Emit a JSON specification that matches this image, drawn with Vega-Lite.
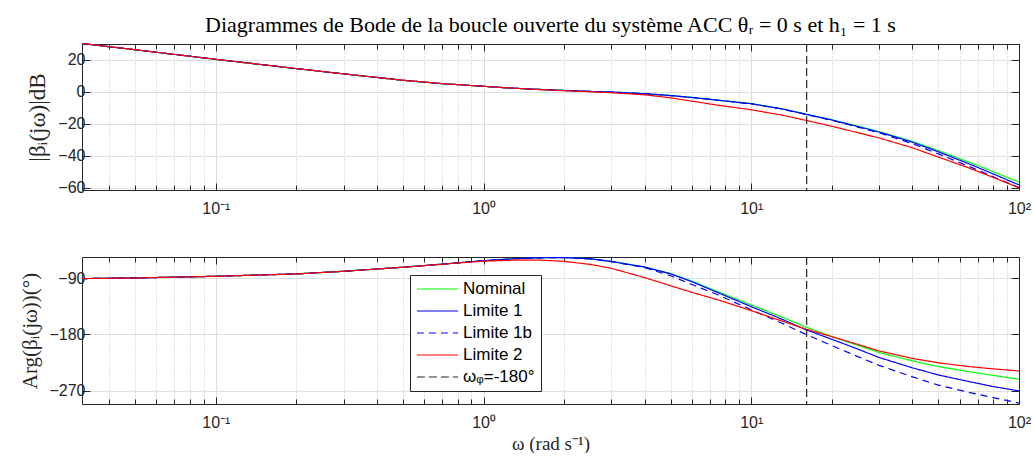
{
  "$schema": "https://vega.github.io/schema/vega-lite/v6.json",
  "padding": {"left": 19, "top": 14, "right": 5, "bottom": 0},
  "background": "white",
  "config": {
    "view": {"stroke": null},
    "axis": {
      "domainColor": "#262626", "tickColor": "#262626", "labelColor": "#262626",
      "labelFont": "Liberation Sans", "labelFontSize": 16,
      "titleFont": "Liberation Serif", "titleFontWeight": "normal", "titleFontSize": 20, "titleColor": "#262626",
      "gridColor": "#dedede", "gridOpacity": 1, "domainWidth": 1, "tickWidth": 1
    },
    "line": {"strokeWidth": 1.2, "clip": true},
    "legend": {"labelFont": "Liberation Sans", "labelFontSize": 17, "labelColor": "#000000"}
  },
  "resolve": {"legend": {"color": "independent", "strokeDash": "independent"}},
  "spacing": 37,
  "datasets": {
    "bode": [
      {"w": 0.03162, "s": "Nominal", "m": 30.3, "p": -90.5},
      {"w": 0.05, "s": "Nominal", "m": 26.4, "p": -89.5},
      {"w": 0.1, "s": "Nominal", "m": 20.4, "p": -86.8},
      {"w": 0.2, "s": "Nominal", "m": 14.6, "p": -83.0},
      {"w": 0.3, "s": "Nominal", "m": 11.3, "p": -78.8},
      {"w": 0.5, "s": "Nominal", "m": 7.3, "p": -72.3},
      {"w": 0.7, "s": "Nominal", "m": 5.2, "p": -67.3},
      {"w": 1, "s": "Nominal", "m": 3.5, "p": -61.8},
      {"w": 1.3, "s": "Nominal", "m": 2.3, "p": -58.7},
      {"w": 1.6, "s": "Nominal", "m": 1.6, "p": -57.2},
      {"w": 2, "s": "Nominal", "m": 0.9, "p": -56.8},
      {"w": 2.5, "s": "Nominal", "m": 0.3, "p": -58.8},
      {"w": 3, "s": "Nominal", "m": -0.1, "p": -63.0},
      {"w": 4, "s": "Nominal", "m": -1.1, "p": -72.0},
      {"w": 5, "s": "Nominal", "m": -2.2, "p": -82.5},
      {"w": 6, "s": "Nominal", "m": -3.4, "p": -94.5},
      {"w": 7.5, "s": "Nominal", "m": -5.1, "p": -111.5},
      {"w": 10, "s": "Nominal", "m": -7.3, "p": -132.8},
      {"w": 13, "s": "Nominal", "m": -10.5, "p": -152.0},
      {"w": 16, "s": "Nominal", "m": -13.9, "p": -168.3},
      {"w": 20, "s": "Nominal", "m": -17.4, "p": -183.5},
      {"w": 25, "s": "Nominal", "m": -21.4, "p": -197.5},
      {"w": 30, "s": "Nominal", "m": -24.8, "p": -209.0},
      {"w": 40, "s": "Nominal", "m": -31.0, "p": -222.5},
      {"w": 50, "s": "Nominal", "m": -36.8, "p": -231.5},
      {"w": 65, "s": "Nominal", "m": -43.9, "p": -239.8},
      {"w": 80, "s": "Nominal", "m": -49.9, "p": -245.6},
      {"w": 100, "s": "Nominal", "m": -56.5, "p": -251.8},

      {"w": 0.03162, "s": "Limite 1", "m": 30.3, "p": -90.5},
      {"w": 0.05, "s": "Limite 1", "m": 26.4, "p": -89.5},
      {"w": 0.1, "s": "Limite 1", "m": 20.4, "p": -86.8},
      {"w": 0.2, "s": "Limite 1", "m": 14.6, "p": -83.0},
      {"w": 0.3, "s": "Limite 1", "m": 11.3, "p": -78.8},
      {"w": 0.5, "s": "Limite 1", "m": 7.3, "p": -72.3},
      {"w": 0.7, "s": "Limite 1", "m": 5.2, "p": -67.3},
      {"w": 1, "s": "Limite 1", "m": 3.5, "p": -61.8},
      {"w": 1.3, "s": "Limite 1", "m": 2.3, "p": -58.7},
      {"w": 1.6, "s": "Limite 1", "m": 1.6, "p": -57.2},
      {"w": 2, "s": "Limite 1", "m": 0.9, "p": -56.8},
      {"w": 2.5, "s": "Limite 1", "m": 0.3, "p": -58.8},
      {"w": 3, "s": "Limite 1", "m": -0.1, "p": -63.0},
      {"w": 4, "s": "Limite 1", "m": -1.1, "p": -72.0},
      {"w": 5, "s": "Limite 1", "m": -2.3, "p": -83.0},
      {"w": 6, "s": "Limite 1", "m": -3.5, "p": -95.5},
      {"w": 7.5, "s": "Limite 1", "m": -5.2, "p": -113.0},
      {"w": 10, "s": "Limite 1", "m": -7.4, "p": -135.5},
      {"w": 13, "s": "Limite 1", "m": -10.6, "p": -155.5},
      {"w": 16, "s": "Limite 1", "m": -14.0, "p": -172.5},
      {"w": 20, "s": "Limite 1", "m": -17.6, "p": -187.8},
      {"w": 25, "s": "Limite 1", "m": -21.7, "p": -203.5},
      {"w": 30, "s": "Limite 1", "m": -25.1, "p": -217.0},
      {"w": 40, "s": "Limite 1", "m": -31.5, "p": -233.5},
      {"w": 50, "s": "Limite 1", "m": -37.5, "p": -245.0},
      {"w": 65, "s": "Limite 1", "m": -45.0, "p": -255.5},
      {"w": 80, "s": "Limite 1", "m": -51.3, "p": -263.5},
      {"w": 100, "s": "Limite 1", "m": -58.2, "p": -270.5},

      {"w": 0.03162, "s": "Limite 1b", "m": 30.3, "p": -90.5},
      {"w": 0.05, "s": "Limite 1b", "m": 26.4, "p": -89.5},
      {"w": 0.1, "s": "Limite 1b", "m": 20.4, "p": -86.8},
      {"w": 0.2, "s": "Limite 1b", "m": 14.6, "p": -83.0},
      {"w": 0.3, "s": "Limite 1b", "m": 11.3, "p": -78.8},
      {"w": 0.5, "s": "Limite 1b", "m": 7.3, "p": -72.3},
      {"w": 0.7, "s": "Limite 1b", "m": 5.2, "p": -67.3},
      {"w": 1, "s": "Limite 1b", "m": 3.5, "p": -61.8},
      {"w": 1.3, "s": "Limite 1b", "m": 2.3, "p": -58.7},
      {"w": 1.6, "s": "Limite 1b", "m": 1.6, "p": -57.2},
      {"w": 2, "s": "Limite 1b", "m": 0.9, "p": -56.8},
      {"w": 2.5, "s": "Limite 1b", "m": 0.3, "p": -58.8},
      {"w": 3, "s": "Limite 1b", "m": -0.1, "p": -63.3},
      {"w": 4, "s": "Limite 1b", "m": -1.1, "p": -73.0},
      {"w": 5, "s": "Limite 1b", "m": -2.3, "p": -86.0},
      {"w": 6, "s": "Limite 1b", "m": -3.5, "p": -100.0},
      {"w": 7.5, "s": "Limite 1b", "m": -5.2, "p": -116.5},
      {"w": 10, "s": "Limite 1b", "m": -7.5, "p": -140.5},
      {"w": 13, "s": "Limite 1b", "m": -10.7, "p": -162.0},
      {"w": 16, "s": "Limite 1b", "m": -14.1, "p": -180.0},
      {"w": 20, "s": "Limite 1b", "m": -17.8, "p": -198.0},
      {"w": 25, "s": "Limite 1b", "m": -22.0, "p": -215.5},
      {"w": 30, "s": "Limite 1b", "m": -25.6, "p": -229.5},
      {"w": 40, "s": "Limite 1b", "m": -32.4, "p": -248.0},
      {"w": 50, "s": "Limite 1b", "m": -38.8, "p": -261.3},
      {"w": 65, "s": "Limite 1b", "m": -46.6, "p": -272.8},
      {"w": 80, "s": "Limite 1b", "m": -53.1, "p": -281.3},
      {"w": 100, "s": "Limite 1b", "m": -59.8, "p": -290.0},

      {"w": 0.03162, "s": "Limite 2", "m": 30.3, "p": -90.5},
      {"w": 0.05, "s": "Limite 2", "m": 26.4, "p": -89.5},
      {"w": 0.1, "s": "Limite 2", "m": 20.4, "p": -86.8},
      {"w": 0.2, "s": "Limite 2", "m": 14.6, "p": -83.0},
      {"w": 0.3, "s": "Limite 2", "m": 11.3, "p": -78.8},
      {"w": 0.5, "s": "Limite 2", "m": 7.3, "p": -72.3},
      {"w": 0.7, "s": "Limite 2", "m": 5.2, "p": -67.5},
      {"w": 1, "s": "Limite 2", "m": 3.5, "p": -62.5},
      {"w": 1.3, "s": "Limite 2", "m": 2.3, "p": -61.0},
      {"w": 1.6, "s": "Limite 2", "m": 1.5, "p": -60.8},
      {"w": 2, "s": "Limite 2", "m": 0.8, "p": -62.8},
      {"w": 2.5, "s": "Limite 2", "m": 0.1, "p": -67.8},
      {"w": 3, "s": "Limite 2", "m": -0.5, "p": -74.0},
      {"w": 4, "s": "Limite 2", "m": -1.8, "p": -89.0},
      {"w": 5, "s": "Limite 2", "m": -3.7, "p": -102.0},
      {"w": 6, "s": "Limite 2", "m": -5.8, "p": -112.5},
      {"w": 7.5, "s": "Limite 2", "m": -8.3, "p": -124.5},
      {"w": 10, "s": "Limite 2", "m": -11.2, "p": -142.0},
      {"w": 13, "s": "Limite 2", "m": -14.5, "p": -158.5},
      {"w": 16, "s": "Limite 2", "m": -17.8, "p": -171.5},
      {"w": 20, "s": "Limite 2", "m": -21.5, "p": -183.5},
      {"w": 25, "s": "Limite 2", "m": -25.5, "p": -196.0},
      {"w": 30, "s": "Limite 2", "m": -28.8, "p": -206.5},
      {"w": 40, "s": "Limite 2", "m": -35.0, "p": -218.5},
      {"w": 50, "s": "Limite 2", "m": -40.8, "p": -225.5},
      {"w": 65, "s": "Limite 2", "m": -47.6, "p": -231.5},
      {"w": 80, "s": "Limite 2", "m": -53.5, "p": -235.2},
      {"w": 100, "s": "Limite 2", "m": -60.0, "p": -238.5}
    ],
    "cross": [{"w": 16.1, "s": "ωᵩ=-180°"}]
  },
  "vconcat": [
    {
      "width": 937,
      "height": 146,
      "title": {"text": "Diagrammes de Bode de la boucle ouverte du système ACC θᵣ = 0 s et h₁ = 1 s", "font": "Liberation Serif", "fontSize": 22, "fontWeight": "normal", "anchor": "middle", "frame": "group", "offset": 4, "color": "#000000"},
      "resolve": {"axis": {"x": "independent", "y": "independent"}},
      "layer": [
        {
          "data": {"name": "bode"},
          "mark": {"type": "line"},
          "encoding": {
            "x": {"field": "w", "type": "quantitative", "scale": {"type": "log", "domain": [0.03162, 100], "nice": false},
              "axis": {"orient": "bottom", "title": null,
                "values": [0.04,0.05,0.06,0.07,0.08,0.09,0.1,0.2,0.3,0.4,0.5,0.6,0.7,0.8,0.9,1,2,3,4,5,6,7,8,9,10,20,30,40,50,60,70,80,90,100],
                "labelExpr": "datum.value == 0.1 ? '10⁻¹' : datum.value == 1 ? '10⁰' : datum.value == 10 ? '10¹' : datum.value == 100 ? '10²' : ''",
                "labelPadding": 17, "labelOverlap": false, "labelFlush": false,
                "tickSize": {"condition": {"test": "datum.value == 0.1 || datum.value == 1 || datum.value == 10 || datum.value == 100", "value": -7}, "value": -5},
                "gridDash": {"condition": {"test": "datum.value == 0.1 || datum.value == 1 || datum.value == 10 || datum.value == 100", "value": []}, "value": [1, 2]},
                "gridColor": {"condition": {"test": "datum.value == 0.1 || datum.value == 1 || datum.value == 10 || datum.value == 100", "value": "#dedede"}, "value": "#c4c4c4"}
              }},
            "y": {"field": "m", "type": "quantitative", "scale": {"domain": [-61.4, 30], "nice": false, "zero": false},
              "axis": {"orient": "left", "values": [-60, -40, -20, 0, 20], "title": "|βᵢ(jω)|dB", "titleFontSize": 23, "titlePadding": 8, "tickSize": -8, "labelPadding": 5}},
            "color": {"field": "s", "type": "nominal", "legend": null,
              "scale": {"domain": ["Nominal", "Limite 1", "Limite 1b", "Limite 2", "ωᵩ=-180°"], "range": ["#00ff00", "#0000ff", "#0000ff", "#ff0000", "#262626"]}},
            "strokeDash": {"field": "s", "type": "nominal", "legend": null,
              "scale": {"domain": ["Nominal", "Limite 1", "Limite 1b", "Limite 2", "ωᵩ=-180°"], "range": [[1, 0], [1, 0], [7, 5], [1, 0], [8, 4]]}}
          }
        },
        {
          "data": {"name": "bode"},
          "mark": {"type": "line", "strokeOpacity": 0},
          "encoding": {
            "x": {"field": "w", "type": "quantitative", "scale": {"type": "log", "domain": [0.03162, 100], "nice": false},
              "axis": {"orient": "top", "title": null, "labels": false, "grid": false,
                "values": [0.04,0.05,0.06,0.07,0.08,0.09,0.1,0.2,0.3,0.4,0.5,0.6,0.7,0.8,0.9,1,2,3,4,5,6,7,8,9,10,20,30,40,50,60,70,80,90,100],
                "tickSize": {"condition": {"test": "datum.value == 0.1 || datum.value == 1 || datum.value == 10 || datum.value == 100", "value": -7}, "value": -5}}},
            "y": {"field": "m", "type": "quantitative", "scale": {"domain": [-61.4, 30], "nice": false, "zero": false},
              "axis": {"orient": "right", "values": [-60, -40, -20, 0, 20], "title": null, "labels": false, "grid": false, "tickSize": -8}},
            "detail": {"field": "s"}
          }
        },
        {
          "data": {"name": "cross"},
          "mark": {"type": "rule", "color": "#262626", "strokeDash": [8, 4], "strokeWidth": 1.2},
          "encoding": {
            "x": {"field": "w", "type": "quantitative", "scale": {"type": "log", "domain": [0.03162, 100], "nice": false}, "axis": null}
          }
        }
      ]
    },
    {
      "width": 937,
      "height": 147,
      "resolve": {"axis": {"x": "independent", "y": "independent"}},
      "layer": [
        {
          "data": {"name": "bode"},
          "mark": {"type": "line"},
          "encoding": {
            "x": {"field": "w", "type": "quantitative", "scale": {"type": "log", "domain": [0.03162, 100], "nice": false},
              "axis": {"orient": "bottom", "title": "ω (rad s⁻¹)", "titlePadding": 2, "titleFontSize": 19,
                "values": [0.04,0.05,0.06,0.07,0.08,0.09,0.1,0.2,0.3,0.4,0.5,0.6,0.7,0.8,0.9,1,2,3,4,5,6,7,8,9,10,20,30,40,50,60,70,80,90,100],
                "labelExpr": "datum.value == 0.1 ? '10⁻¹' : datum.value == 1 ? '10⁰' : datum.value == 10 ? '10¹' : datum.value == 100 ? '10²' : ''",
                "labelPadding": 17, "labelOverlap": false, "labelFlush": false,
                "tickSize": {"condition": {"test": "datum.value == 0.1 || datum.value == 1 || datum.value == 10 || datum.value == 100", "value": -7}, "value": -5},
                "gridDash": {"condition": {"test": "datum.value == 0.1 || datum.value == 1 || datum.value == 10 || datum.value == 100", "value": []}, "value": [1, 2]},
                "gridColor": {"condition": {"test": "datum.value == 0.1 || datum.value == 1 || datum.value == 10 || datum.value == 100", "value": "#dedede"}, "value": "#c4c4c4"}
              }},
            "y": {"field": "p", "type": "quantitative", "scale": {"domain": [-291.5, -55.9], "nice": false, "zero": false},
              "axis": {"orient": "left", "values": [-270, -180, -90], "title": "Arg(βᵢ(jω))(°)", "titleFontSize": 21, "titlePadding": 8, "tickSize": -8, "labelPadding": 5}},
            "color": {"field": "s", "type": "nominal",
              "scale": {"domain": ["Nominal", "Limite 1", "Limite 1b", "Limite 2", "ωᵩ=-180°"], "range": ["#00ff00", "#0000ff", "#0000ff", "#ff0000", "#262626"]},
              "legend": {"orient": "none", "legendX": 328, "legendY": 18, "title": null, "direction": "vertical", "fillColor": "white", "strokeColor": "#262626", "padding": 6, "symbolType": "stroke", "symbolSize": 1700, "symbolStrokeWidth": 1.2, "rowPadding": 5, "clipHeight": 16, "labelOffset": 4}},
            "strokeDash": {"field": "s", "type": "nominal",
              "scale": {"domain": ["Nominal", "Limite 1", "Limite 1b", "Limite 2", "ωᵩ=-180°"], "range": [[1, 0], [1, 0], [7, 5], [1, 0], [8, 4]]},
              "legend": {"orient": "none", "legendX": 328, "legendY": 18, "title": null, "direction": "vertical", "fillColor": "white", "strokeColor": "#262626", "padding": 6, "symbolType": "stroke", "symbolSize": 1700, "symbolStrokeWidth": 1.2, "rowPadding": 5, "clipHeight": 16, "labelOffset": 4}}
          }
        },
        {
          "data": {"name": "bode"},
          "mark": {"type": "line", "strokeOpacity": 0},
          "encoding": {
            "x": {"field": "w", "type": "quantitative", "scale": {"type": "log", "domain": [0.03162, 100], "nice": false},
              "axis": {"orient": "top", "title": null, "labels": false, "grid": false,
                "values": [0.04,0.05,0.06,0.07,0.08,0.09,0.1,0.2,0.3,0.4,0.5,0.6,0.7,0.8,0.9,1,2,3,4,5,6,7,8,9,10,20,30,40,50,60,70,80,90,100],
                "tickSize": {"condition": {"test": "datum.value == 0.1 || datum.value == 1 || datum.value == 10 || datum.value == 100", "value": -7}, "value": -5}}},
            "y": {"field": "p", "type": "quantitative", "scale": {"domain": [-291.5, -55.9], "nice": false, "zero": false},
              "axis": {"orient": "right", "values": [-270, -180, -90], "title": null, "labels": false, "grid": false, "tickSize": -8}},
            "detail": {"field": "s"}
          }
        },
        {
          "data": {"name": "cross"},
          "mark": {"type": "rule", "strokeWidth": 1.2},
          "encoding": {
            "x": {"field": "w", "type": "quantitative", "scale": {"type": "log", "domain": [0.03162, 100], "nice": false}, "axis": null},
            "color": {"field": "s", "type": "nominal",
              "scale": {"domain": ["Nominal", "Limite 1", "Limite 1b", "Limite 2", "ωᵩ=-180°"], "range": ["#00ff00", "#0000ff", "#0000ff", "#ff0000", "#262626"]},
              "legend": {"orient": "none", "legendX": 328, "legendY": 18, "title": null, "direction": "vertical", "fillColor": "white", "strokeColor": "#262626", "padding": 6, "symbolType": "stroke", "symbolSize": 1700, "symbolStrokeWidth": 1.2, "rowPadding": 5, "clipHeight": 16, "labelOffset": 4}},
            "strokeDash": {"field": "s", "type": "nominal",
              "scale": {"domain": ["Nominal", "Limite 1", "Limite 1b", "Limite 2", "ωᵩ=-180°"], "range": [[1, 0], [1, 0], [7, 5], [1, 0], [8, 4]]},
              "legend": {"orient": "none", "legendX": 328, "legendY": 18, "title": null, "direction": "vertical", "fillColor": "white", "strokeColor": "#262626", "padding": 6, "symbolType": "stroke", "symbolSize": 1700, "symbolStrokeWidth": 1.2, "rowPadding": 5, "clipHeight": 16, "labelOffset": 4}}
          }
        }
      ]
    }
  ]
}
